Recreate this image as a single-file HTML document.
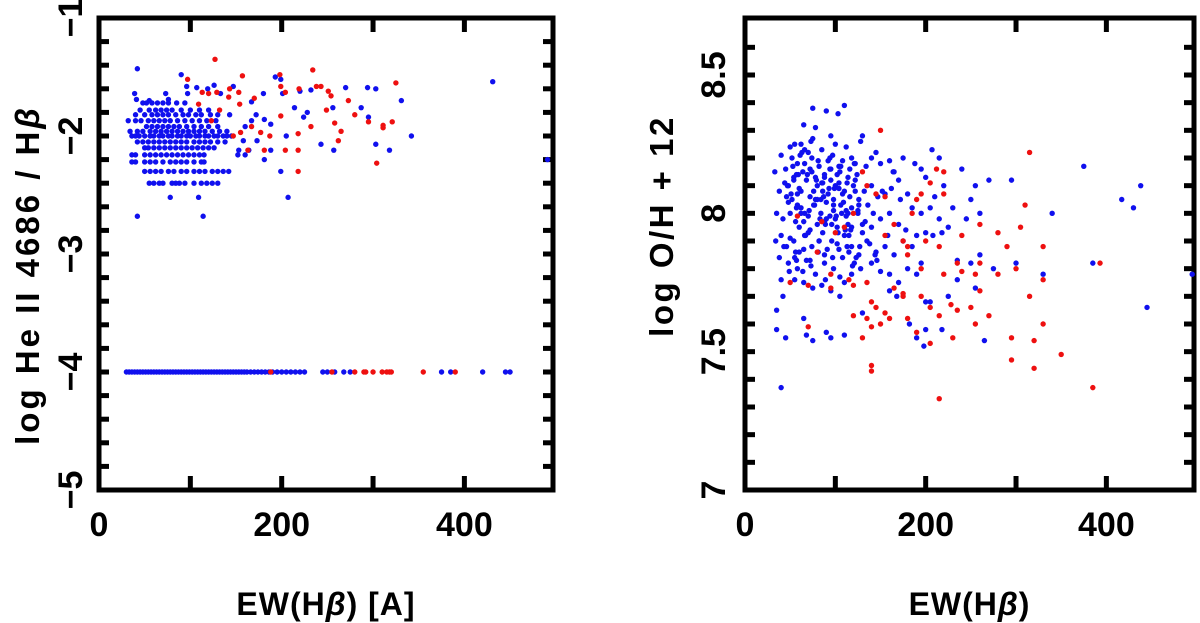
<!DOCTYPE html>
<html><head><meta charset="utf-8"><style>
html,body{margin:0;padding:0;background:#fff}
svg{display:block}
text{font-family:"Liberation Sans",sans-serif;font-weight:bold;fill:#000}
</style></head><body>
<svg id="chart" width="1200" height="623" viewBox="0 0 1200 623" xmlns="http://www.w3.org/2000/svg">
<g id="left"></g>
<g id="right"></g>
</svg>
<script>
// ---- Left panel data ----
const leftRowY = [-1.72,-1.78,-1.82,-1.87,-1.92,-1.96,-2.0,-2.05,-2.1,-2.16,-2.22,-2.3,-2.4];
const leftRowX = [
[48,52,58,64,70,76,85,94],
[45,55,62,68,74,80,90,100,110,120],
[40,50,58,64,70,76,84,92,98,106,112,122,130],
[32,40,46,54,60,66,72,78,86,94,102,110,118,128],
[52,58,64,70,76,82,88,96,104,112,120,130],
[34,42,48,56,62,68,74,80,86,92,98,104,110,116,124,132,140],
[36,40,44,50,56,60,66,70,76,80,86,90,96,100,106,110,116,120,126,130,136,140,145],
[42,48,54,60,66,72,78,84,90,96,104,110,116,122,130,138],
[50,54,60,66,72,78,84,90,96,102,108,114,120,126],
[36,40,50,56,62,68,74,80,86,92,98,104,110,115,152,160],
[36,40,50,56,62,70,78,84,90,96,104,112,115],
[50,56,62,68,76,82,90,96,104,110,116,124,130,136,142],
[55,60,66,70,80,84,88,94,104,112,118,124,130]
];
const leftBlueX = [42,90,199,431,491,39,41,55,73,76,96,97,107,119,126,133,147,167,180,193,201,220,232,270,294,303,331,342,214,256,287,295,228,224,303,318,243,257,205,199,207,42,114,78,109,143,160,167,172,181,188,173,158,153,164,181,188];
const leftBlueY = [-1.43,-1.48,-1.52,-1.54,-2.2,-1.64,-1.69,-1.7,-1.64,-1.69,-1.58,-1.64,-1.59,-1.6,-1.57,-1.64,-1.58,-1.71,-1.64,-1.5,-1.64,-1.62,-1.61,-1.59,-1.59,-1.6,-1.7,-2.0,-1.76,-1.76,-1.76,-1.84,-1.8,-1.84,-2.07,-2.12,-2.07,-2.12,-2.0,-2.3,-2.52,-2.68,-2.68,-2.52,-2.52,-1.82,-1.92,-1.87,-1.82,-1.86,-1.9,-2.04,-2.04,-2.12,-2.12,-2.2,-2.12];
const leftRedX = [97,127,157,198,234,325,109,113,120,129,143,142,153,154,170,199,204,219,232,238,243,251,254,249,273,280,258,265,262,295,311,321,311,304,218,218,204,218,199,177,181,187,163,167,155,147,132,123];
const leftRedY = [-1.52,-1.35,-1.49,-1.48,-1.44,-1.55,-1.73,-1.63,-1.64,-1.63,-1.6,-1.67,-1.63,-1.73,-1.68,-1.58,-1.63,-1.6,-1.92,-1.58,-1.58,-1.62,-1.66,-1.78,-1.7,-1.82,-1.89,-1.96,-2.04,-1.88,-1.91,-1.88,-1.93,-2.23,-2.3,-2.12,-2.12,-1.98,-1.83,-1.97,-2.12,-2.0,-2.12,-1.92,-1.97,-2.0,-1.78,-1.87];
const floorBlueX = [30,33,36,39,42,45,48,51,54,57,60,63,66,69,72,75,78,81,84,87,90,93,96,99,102,105,108,111,114,117,120,123,126,129,132,135,138,141,144,147,150,153,156,159,162,166,170,174,178,182,186,190,195,200,205,210,215,220,225,245,250,258,268,275,375,385,420,445,450];
const floorRedX = [188,255,280,290,292,300,310,315,318,320,355,390];
const floorY = -4;

// ---- Right panel data ----
const rightBlueX = [75,90,103,110,65,78,95,130,128,62,50,55,40,70,85,100,112,140,145,160,175,215,207,195,188,33,45,57,66,74,82,92,104,118,122,134,150,165,170,200,220,240,270,295,375,438,417,430,340,255,250,210,230,245,260,38,48,52,60,68,72,80,86,95,100,108,114,120,126,132,140,147,155,162,172,180,185,195,205,215,225,35,42,50,56,62,70,76,84,90,98,106,112,118,125,133,142,150,160,170,178,190,200,208,218,34,40,46,54,60,66,74,82,88,96,104,110,118,126,135,145,155,165,175,185,195,38,48,58,68,78,88,98,108,118,128,140,150,160,170,180,190,235,250,260,275,300,330,385,40,55,65,75,85,95,110,235,255,42,105,160,168,200,205,35,65,225,445,130,182,90,110,200,35,75,45,68,95,190,198,218,265,40,495,52,58,64,72,78,88,94,102,108,116,124,54,62,76,84,92,98,104,116,122,58,66,80,88,94,102,114,60,72,86,100,130,140,115,
 44,48,53,57,61,65,69,73,77,81,85,89,93,97,101,105,109,113,117,121,125,46,50,54,58,62,66,70,74,78,82,86,90,94,98,102,106,110,114,118,122,126,130,43,47,51,55,59,63,67,71,75,79,83,87,91,95,99,103,107,111,115,119,123,127,49,57,65,73,81,89,97,105,113,121,56,64,72,80,88,96,104,112,138,146,152,158,164,144,136];
const rightBlueY = [8.38,8.37,8.36,8.39,8.32,8.31,8.28,8.28,8.26,8.25,8.24,8.25,8.21,8.22,8.23,8.25,8.24,8.2,8.22,8.19,8.2,8.2,8.23,8.16,8.18,8.15,8.16,8.14,8.18,8.2,8.17,8.19,8.17,8.2,8.18,8.17,8.18,8.15,8.12,8.13,8.1,8.16,8.12,8.12,8.17,8.1,8.05,8.02,8.0,8.1,8.05,8.06,8.02,7.98,8.0,8.08,8.1,8.05,8.09,8.12,8.06,8.1,8.08,8.12,8.1,8.07,8.13,8.1,8.05,8.08,8.1,8.06,8.07,8.09,8.05,8.07,8.02,8.0,8.02,7.98,7.95,8.0,7.98,8.0,7.97,8.02,7.99,8.03,8.0,8.04,8.01,8.03,7.99,8.02,8.0,7.97,8.0,7.98,8.0,7.96,7.94,7.92,7.93,7.92,7.93,7.9,7.92,7.88,7.9,7.86,7.92,7.88,7.9,7.85,7.9,7.87,7.92,7.88,7.85,7.9,7.86,7.88,7.85,7.9,7.88,7.82,7.84,7.82,7.8,7.83,7.78,7.82,7.8,7.84,7.78,7.8,7.82,7.79,7.78,7.75,7.8,7.78,7.83,7.82,7.85,7.8,7.82,7.78,7.82,7.76,7.76,7.75,7.73,7.74,7.72,7.75,7.76,7.73,7.7,7.7,7.72,7.7,7.68,7.68,7.65,7.62,7.7,7.66,7.64,7.6,7.57,7.56,7.58,7.58,7.54,7.55,7.56,7.55,7.55,7.52,7.58,7.54,7.37,7.78,8.2,8.18,8.15,8.16,8.13,8.14,8.16,8.14,8.19,8.16,8.14,8.12,8.08,8.08,8.05,8.07,8.05,8.09,8.06,8.08,8.03,8.0,7.96,7.97,7.99,7.95,7.96,7.95,7.94,7.93,7.98,7.93,7.95,7.92,
 8.11,8.04,8.17,8.02,8.21,7.97,8.14,8.26,8.03,8.19,8.11,7.96,8.09,8.21,7.99,8.15,8.04,8.11,7.94,8.18,8.01,8.06,7.91,8.13,8.07,8.0,8.23,7.93,8.15,8.05,7.9,8.11,7.98,8.2,8.03,7.89,8.17,8.08,8.0,7.95,8.12,8.03,7.96,7.88,8.1,8.07,7.84,8.14,8.22,7.92,8.01,8.27,8.12,7.98,8.06,7.87,8.16,8.09,7.93,8.0,7.94,7.86,7.81,7.84,7.88,7.79,7.83,7.87,7.81,7.86,7.76,7.84,7.77,7.88,7.82,7.86,7.79,7.83,8.05,8.13,7.96,8.11,8.01,7.89,7.83,8.08,7.92,8.15,7.85,8.03,7.97,8.1];
const rightRedX = [150,315,212,220,205,130,135,145,155,190,195,220,310,120,185,165,260,85,100,110,155,175,180,200,215,240,280,305,290,330,180,235,260,300,393,50,70,95,115,120,135,195,220,240,255,280,330,260,95,165,175,195,315,140,145,175,205,228,235,250,120,135,155,160,180,215,270,140,150,255,330,70,130,190,230,295,320,205,350,140,140,295,320,215,385,58,80];
const rightRedY = [8.3,8.22,8.16,8.15,8.11,8.15,8.1,8.07,8.06,8.05,8.07,8.07,8.03,8.0,8.0,7.96,7.96,7.97,7.93,7.95,7.92,7.9,7.88,7.9,7.88,7.92,7.93,7.95,7.88,7.88,7.85,7.82,7.82,7.8,7.82,7.75,7.74,7.78,7.76,7.74,7.75,7.8,7.78,7.79,7.78,7.78,7.76,7.72,7.73,7.73,7.71,7.7,7.7,7.68,7.66,7.7,7.66,7.67,7.65,7.66,7.63,7.62,7.64,7.62,7.62,7.63,7.63,7.59,7.6,7.6,7.6,7.59,7.55,7.57,7.55,7.55,7.54,7.53,7.49,7.45,7.43,7.47,7.44,7.33,7.37,7.99,7.86];

const NS = "http://www.w3.org/2000/svg";
function mk(tag, attrs, parent){const e=document.createElementNS(NS,tag);for(const k in attrs)e.setAttribute(k,attrs[k]);parent.appendChild(e);return e;}

function panel(g, F, xmin, xmax, ymin, ymax, yTicks, yMinorStep, yLabels, xTitle, yTitle, yLabelX, yTitleX, yTitleCY, yTitleSpacing){
  const sx = v => F.l + (v-xmin)/(xmax-xmin)*(F.r-F.l);
  const sy = v => F.b - (v-ymin)/(ymax-ymin)*(F.b-F.t);
  const frame = mk('rect',{x:F.l,y:F.t,width:F.r-F.l,height:F.b-F.t,fill:'none',stroke:'#000','stroke-width':5},g);
  
  
  for(let v=100; v<xmax; v+=100){
    const x=sx(v);
    const t1=mk('line',{x1:x,y1:F.b,x2:x,y2:F.b-14,stroke:'#000','stroke-width':5},g);
    
    
    const t2=mk('line',{x1:x,y1:F.t,x2:x,y2:F.t+14,stroke:'#000','stroke-width':5},g);
    
    
  }
  [0,200,400].forEach(v=>{
    const t=mk('text',{x:sx(v),y:F.b+46,'font-size':34,'text-anchor':'middle'},g);
    t.textContent=String(v);
    
    
  });
  const n=Math.round((ymax-ymin)/yMinorStep);
  for(let i=1;i<n;i++){
    const v=ymin+i*yMinorStep, y=sy(v);
    const t1=mk('line',{x1:F.l,y1:y,x2:F.l+10,y2:y,stroke:'#000','stroke-width':5},g);
    
    
    const t2=mk('line',{x1:F.r,y1:y,x2:F.r-10,y2:y,stroke:'#000','stroke-width':5},g);
    
    
  }
  yTicks.forEach((v,i)=>{
    const y=sy(v);
    const t=mk('text',{x:yLabelX,y:y,'font-size':34,'text-anchor':'middle',transform:`rotate(-90 ${yLabelX} ${y})`,dy:12},g);
    t.textContent=yLabels[i];
    
    
  });
  const xt=mk('text',{x:(F.l+F.r)/2,y:615,'font-size':32,'text-anchor':'middle','letter-spacing':1},g);
  xt.innerHTML=xTitle;
  
  
  const cy=yTitleCY;
  const yt=mk('text',{x:yTitleX,y:cy,'font-size':33,'text-anchor':'middle','letter-spacing':yTitleSpacing,transform:`rotate(-90 ${yTitleX} ${cy})`,dy:11},g);
  yt.innerHTML=yTitle;
  
  
  return {sx,sy};
}
function dot(g,x,y,c,name){
  if(x===undefined||y===undefined||isNaN(x)||isNaN(y)) return;
  const d=mk('circle',{cx:x,cy:y,r:2.7,fill:c},g);
  
  
}
const BLUE='#1010ee', RED='#ee1010';

const gl=document.getElementById('left');
const L=panel(gl,{l:99,r:553,t:18,b:490},0,497,-5,-1,[-1,-2,-3,-4,-5],0.2,['−1','−2','−3','−4','−5'],
 'EW(H<tspan font-style="italic">β</tspan>)  [A]','log He II  4686  /  H<tspan font-style="italic">β</tspan>',70,28,275,3);
leftRowY.forEach((y,i)=>leftRowX[i].forEach(x=>dot(gl,L.sx(x),L.sy(y),BLUE,'point-blue')));
leftBlueX.forEach((x,i)=>dot(gl,L.sx(x),L.sy(leftBlueY[i]),BLUE,'point-blue'));
leftRedX.forEach((x,i)=>dot(gl,L.sx(x),L.sy(leftRedY[i]),RED,'point-red'));
floorBlueX.forEach(x=>dot(gl,L.sx(x),L.sy(floorY),BLUE,'point-blue-floor'));
floorRedX.forEach(x=>dot(gl,L.sx(x),L.sy(floorY),RED,'point-red-floor'));

const gr=document.getElementById('right');
const R=panel(gr,{l:745,r:1194,t:18,b:490},0,497,7,8.706,[7,7.5,8,8.5],0.1,['7','7.5','8','8.5'],
 'EW(H<tspan font-style="italic">β</tspan>)','log O/H + 12',713,662,226,2.5);
rightBlueX.forEach((x,i)=>dot(gr,R.sx(x),R.sy(rightBlueY[i]),BLUE,'point-blue'));
rightRedX.forEach((x,i)=>dot(gr,R.sx(x),R.sy(rightRedY[i]),RED,'point-red'));
</script>
</body></html>
